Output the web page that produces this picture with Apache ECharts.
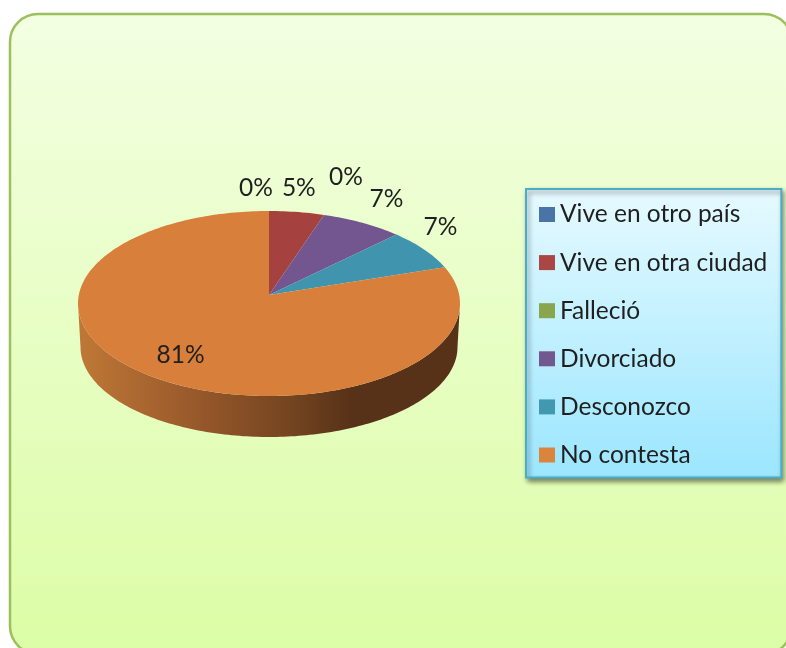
<!DOCTYPE html>
<html><head><meta charset="utf-8">
<style>html,body{margin:0;padding:0;background:#fff}#c{width:786px;height:648px}</style>
<script src="https://cdn.jsdelivr.net/npm/echarts@6/dist/echarts.min.js"></script>
</head><body><div id="c"></div>
<script>
var categories = ['Vive en otro país','Vive en otra ciudad','Falleció','Divorciado','Desconozco','No contesta'];
var shares = [0, 4.65, 0, 6.98, 6.98, 81.39];
var sliceColors = ['#4a73a8','#a5423f','#89a54e','#73568f','#4094ae','#d77f3b'];
var legendColors = ['#4a73a8','#aa4643','#89a54e','#71588f','#4198af','#db843d'];
var labelNudge = [[-13,-23],[2,-24],[22,-38],[24,-24],[16,-23],[17,-26]];

var FONT = 'Lato';
var apex = [269,295], top_ = {cx:269, cy:303.5, rx:191, ry:92.5}, bot = {cx:269, cy:347, rx:188.5, ry:90};
var total = shares.reduce(function(a,b){return a+b;},0);
function rim(e,a){ return [e.cx + e.rx*Math.sin(a), e.cy - e.ry*Math.cos(a)]; }
function arc(e,a0,a1){ var n=Math.max(2,Math.ceil(Math.abs(a1-a0)/0.02)),p=[]; for(var i=0;i<=n;i++) p.push(rim(e,a0+(a1-a0)*i/n)); return p; }

var cum=0, series=[];
series.push({type:'custom',name:'lateral',coordinateSystem:'none',silent:true,z:1,data:[1],
  renderItem:function(){
    var pts = arc(top_,Math.PI/2,Math.PI*1.5).concat(arc(bot,Math.PI*1.5,Math.PI/2));
    return {type:'polygon',shape:{points:pts},style:{fill:new echarts.graphic.LinearGradient(0,0,1,0,[
      {offset:0,color:'#bf7836'},{offset:0.3,color:'#99592b'},{offset:0.55,color:'#754520'},{offset:0.72,color:'#573118'},{offset:1,color:'#573118'}])}};
  }});
categories.forEach(function(name,i){
  var a0=cum/total*Math.PI*2; cum+=shares[i]; var a1=cum/total*Math.PI*2;
  series.push({type:'custom',name:name,coordinateSystem:'none',silent:true,z:2+i,data:[shares[i]],
    itemStyle:{color:legendColors[i]},
    renderItem:function(){
      var kids=[];
      if(a1>a0){ kids.push({type:'polygon',shape:{points:[apex].concat(arc(top_,a0,a1))},style:{fill:sliceColors[i]}}); }
      var m=rim(top_,(a0+a1)/2);
      kids.push({type:'text',z2:10,style:{text:Math.round(shares[i]/total*100)+'%',x:m[0]+labelNudge[i][0],y:m[1]+labelNudge[i][1],
        align:'center',verticalAlign:'middle',font:'24.5px '+FONT,fill:'#1f1f1f'}});
      return {type:'group',children:kids};
    }});
});

var chart=echarts.init(document.getElementById('c'),null,{renderer:'canvas'});
chart.setOption({
  animation:false,
  graphic:[{type:'rect',z:-1,silent:true,shape:{x:10,y:14,width:782,height:640,r:28},
    style:{fill:new echarts.graphic.LinearGradient(0,0,0,1,[{offset:0,color:'#f3ffe2'},{offset:1,color:'#dcfda6'}]),
      stroke:'#9cc05a',lineWidth:2.5}}],
  legend:{orient:'vertical',left:526,top:189,padding:[13,14,10,13],itemWidth:16,itemHeight:15,itemGap:23.1,selectedMode:false,icon:'rect',
    data:categories.map(function(n,i){return {name:n,itemStyle:{color:legendColors[i]}};}),
    textStyle:{fontFamily:FONT,fontSize:24.5,color:'#1f1f1f'},
    backgroundColor:new echarts.graphic.LinearGradient(0,0,0,1,[{offset:0,color:'#e6faff'},{offset:1,color:'#9be6ff'}]),
    borderColor:'#4bacc6',borderWidth:2,shadowColor:'rgba(0,0,0,0.45)',shadowBlur:5,shadowOffsetX:2,shadowOffsetY:3},
  series:series
});
</script></body></html>
